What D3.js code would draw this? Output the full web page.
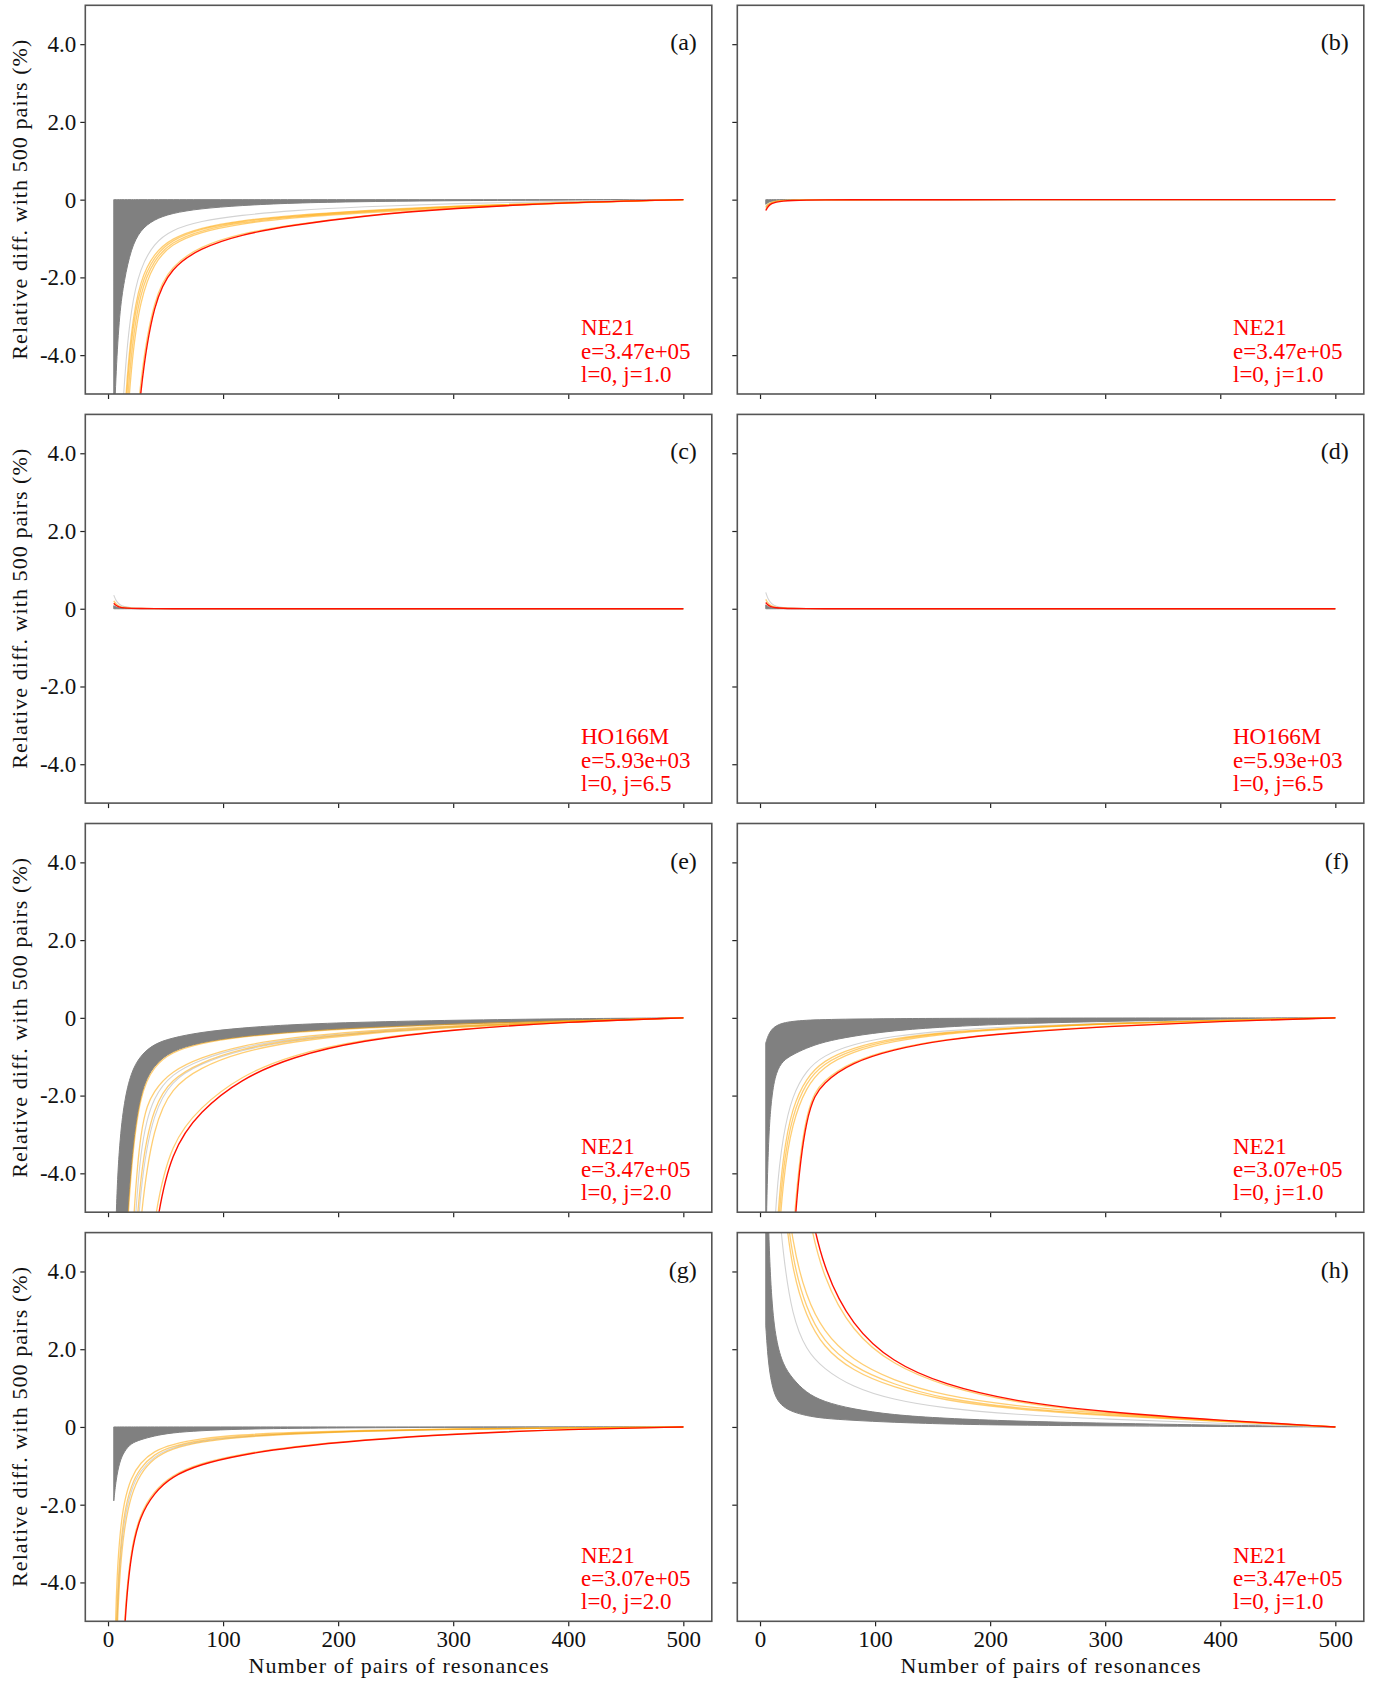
<!DOCTYPE html>
<html>
<head>
<meta charset="utf-8">
<script src="https://cdn.jsdelivr.net/npm/d3@7"></script>
<style>
  html, body { margin: 0; padding: 0; background: #fff; }
  svg text { font-family: "Liberation Serif", "DejaVu Serif", serif; }
</style>
</head>
<body>
<svg id="chart" width="1375" height="1681"></svg>
<script>
// ---------------- DATA ----------------
const X = [5, 7, 10, 14, 20, 28, 40, 55, 80, 115, 160, 220, 300, 400, 500];
const xTicks = [0, 100, 200, 300, 400, 500];
const yTicks = [-4, -2, 0, 2, 4];
const yTickLabels = ["-4.0", "-2.0", "0", "2.0", "4.0"];
const panelLabels = ["(a)", "(b)", "(c)", "(d)", "(e)", "(f)", "(g)", "(h)"];
const notes = [
  ["NE21", "e=3.47e+05", "l=0, j=1.0"],
  ["NE21", "e=3.47e+05", "l=0, j=1.0"],
  ["HO166M", "e=5.93e+03", "l=0, j=6.5"],
  ["HO166M", "e=5.93e+03", "l=0, j=6.5"],
  ["NE21", "e=3.47e+05", "l=0, j=2.0"],
  ["NE21", "e=3.07e+05", "l=0, j=1.0"],
  ["NE21", "e=3.07e+05", "l=0, j=2.0"],
  ["NE21", "e=3.47e+05", "l=0, j=1.0"]
];
const yLabel = "Relative diff. with 500 pairs (%)";
const xLabel = "Number of pairs of resonances";

// panel (a)
const grayUpA = [0,0,0,0,0,0,0,0,0,0,0,0,0,0,0];
const grayLoA = [-6,-4.4,-2.9,-2.08,-1.26,-0.78,-0.51,-0.35,-0.23,-0.15,-0.085,-0.05,-0.025,-0.01,0];
const lightA = [
  [-16,-11,-7,-4.6,-2.75,-1.75,-1.12,-0.78,-0.55,-0.4,-0.28,-0.18,-0.1,-0.04,0]
];
const orangeA = [
  [-21,-14,-8.6,-5.5,-3.3,-2.05,-1.38,-1.0,-0.72,-0.54,-0.4,-0.28,-0.16,-0.07,0],
  [-22,-15,-9.2,-5.9,-3.5,-2.2,-1.46,-1.04,-0.75,-0.56,-0.42,-0.3,-0.17,-0.07,0],
  [-24,-16,-10,-6.4,-3.85,-2.35,-1.54,-1.09,-0.79,-0.59,-0.44,-0.32,-0.18,-0.08,0],
  [-26,-17,-10.8,-7,-4.2,-2.55,-1.62,-1.14,-0.83,-0.62,-0.46,-0.34,-0.2,-0.08,0],
  [-48,-33,-21,-13,-7.6,-4.5,-2.5,-1.7,-1.2,-0.87,-0.64,-0.41,-0.21,-0.07,0]
];
const redA = [-50,-35,-22,-14,-8,-4.75,-2.6,-1.75,-1.25,-0.9,-0.66,-0.42,-0.22,-0.07,0];

// panel (b)
const grayUpB = [0,0,0,0,0,0,0,0,0,0,0,0,0,0,0];
const grayLoB = [-0.12,-0.07,-0.04,-0.02,-0.01,-0.005,-0.003,-0.002,-0.001,0,0,0,0,0,0];
const lightB = [
  [-0.2,-0.12,-0.07,-0.04,-0.02,-0.01,-0.005,-0.003,-0.002,-0.001,0,0,0,0,0]
];
const orangeB = [
  [-0.18,-0.11,-0.065,-0.035,-0.018,-0.01,-0.005,-0.003,-0.002,-0.001,0,0,0,0,0],
  [-0.23,-0.14,-0.08,-0.045,-0.025,-0.013,-0.007,-0.004,-0.002,-0.001,0,0,0,0,0]
];
const redB = [-0.28,-0.17,-0.1,-0.06,-0.035,-0.02,-0.01,-0.006,-0.003,-0.002,-0.001,0,0,0,0];

// panel (c)
const grayUpC = [0.08,0.04,0.02,0.01,0.005,0.003,0.002,0.001,0,0,0,0,0,0,0];
const grayLoC = [0,0,0,0,0,0,0,0,0,0,0,0,0,0,0];
const lightC = [
  [0.35,0.2,0.1,0.05,0.025,0.012,0.006,0.003,0.001,0,0,0,0,0,0]
];
const orangeC = [
  [0.2,0.12,0.06,0.03,0.015,0.008,0.004,0.002,0.001,0,0,0,0,0,0]
];
const redC = [0.14,0.08,0.04,0.02,0.01,0.005,0.003,0.001,0,0,0,0,0,0,0];

// panel (d)
const grayUpD = [0.1,0.05,0.025,0.012,0.006,0.003,0.002,0.001,0,0,0,0,0,0,0];
const grayLoD = [0,0,0,0,0,0,0,0,0,0,0,0,0,0,0];
const lightD = [
  [0.42,0.24,0.12,0.06,0.03,0.015,0.007,0.003,0.001,0,0,0,0,0,0]
];
const orangeD = [
  [0.24,0.14,0.07,0.035,0.018,0.009,0.004,0.002,0.001,0,0,0,0,0,0]
];
const redD = [0.16,0.09,0.045,0.022,0.011,0.005,0.003,0.001,0,0,0,0,0,0,0];

// panel (e)
const grayUpE = [-8,-4.8,-3.2,-2.15,-1.4,-0.97,-0.67,-0.52,-0.37,-0.26,-0.17,-0.11,-0.06,-0.02,0];
const grayLoE = [-25,-16,-10,-6.5,-3.6,-1.85,-1.2,-0.85,-0.63,-0.48,-0.36,-0.25,-0.16,-0.07,0];
const lightE = [
  [-42,-30,-19,-12,-6.8,-3.1,-2.0,-1.45,-1.07,-0.76,-0.53,-0.36,-0.21,-0.085,0],
  [-47,-33,-21,-14,-8.2,-4.1,-2.4,-1.62,-1.18,-0.83,-0.58,-0.39,-0.23,-0.095,0]
];
const orangeE = [
  [-26,-17,-10.5,-6.8,-3.75,-1.92,-1.24,-0.88,-0.65,-0.49,-0.37,-0.26,-0.16,-0.07,0],
  [-40,-28,-18,-11,-6,-2.6,-1.85,-1.38,-1.02,-0.72,-0.5,-0.34,-0.2,-0.08,0],
  [-45,-32,-20,-13,-7.5,-3.8,-2.25,-1.58,-1.15,-0.8,-0.56,-0.38,-0.22,-0.09,0],
  [-50,-35,-23,-15,-9,-4.9,-2.75,-1.8,-1.28,-0.88,-0.61,-0.41,-0.24,-0.1,0],
  [-58,-43,-30,-20,-13,-8.5,-5.0,-3.2,-2.3,-1.5,-0.95,-0.56,-0.29,-0.1,0]
];
const redE = [-60,-45,-32,-22,-14,-9.5,-5.4,-3.4,-2.4,-1.58,-1.0,-0.58,-0.3,-0.1,0];

// panel (f)
const grayUpF = [-0.65,-0.45,-0.3,-0.2,-0.13,-0.09,-0.06,-0.045,-0.03,-0.02,-0.013,-0.008,-0.004,-0.002,0];
const grayLoF = [-6,-3.2,-2.0,-1.38,-1.1,-0.95,-0.78,-0.62,-0.47,-0.33,-0.23,-0.15,-0.09,-0.04,0];
const lightF = [
  [-20,-12,-7,-4.5,-3.0,-2.0,-1.35,-0.97,-0.68,-0.47,-0.33,-0.22,-0.13,-0.05,0]
];
const orangeF = [
  [-25,-15,-9,-5.5,-3.5,-2.3,-1.55,-1.1,-0.77,-0.53,-0.37,-0.25,-0.14,-0.06,0],
  [-27,-16,-9.8,-6,-3.8,-2.5,-1.65,-1.17,-0.82,-0.56,-0.39,-0.26,-0.15,-0.06,0],
  [-29,-17,-10.5,-6.6,-4.1,-2.7,-1.78,-1.25,-0.87,-0.6,-0.41,-0.27,-0.16,-0.065,0],
  [-65,-46,-32,-20,-11,-5.2,-2.2,-1.6,-1.12,-0.8,-0.55,-0.37,-0.21,-0.085,0]
];
const redF = [-70,-50,-35,-22,-12,-5.5,-2.3,-1.65,-1.15,-0.82,-0.56,-0.38,-0.22,-0.09,0];

// panel (g)
const grayUpG = [0,0,0,0,0,0,0,0,0,0,0,0,0,0,0];
const grayLoG = [-1.9,-1.35,-0.9,-0.63,-0.42,-0.33,-0.23,-0.15,-0.095,-0.055,-0.035,-0.02,-0.01,-0.004,0];
const lightG = [
  [-8.5,-5.4,-3.5,-2.4,-1.6,-1.12,-0.76,-0.53,-0.36,-0.25,-0.17,-0.105,-0.058,-0.023,0]
];
const orangeG = [
  [-7,-4.2,-2.8,-1.9,-1.3,-0.92,-0.62,-0.45,-0.3,-0.2,-0.14,-0.09,-0.05,-0.02,0],
  [-8,-5,-3.3,-2.2,-1.5,-1.05,-0.7,-0.5,-0.34,-0.23,-0.16,-0.1,-0.055,-0.022,0],
  [-9,-5.8,-3.8,-2.6,-1.75,-1.2,-0.8,-0.56,-0.38,-0.26,-0.18,-0.11,-0.06,-0.024,0],
  [-21,-13.5,-8.2,-4.8,-3.1,-2.22,-1.65,-1.25,-0.93,-0.7,-0.5,-0.33,-0.17,-0.06,0]
];
const redG = [-22,-14,-8.5,-5.0,-3.2,-2.28,-1.7,-1.28,-0.96,-0.72,-0.52,-0.34,-0.18,-0.06,0];

// panel (h)
const grayUpH = [9,5.2,3.2,2.2,1.6,1.25,0.88,0.65,0.46,0.31,0.22,0.15,0.095,0.045,0];
const grayLoH = [2.6,1.7,1.1,0.72,0.52,0.39,0.29,0.22,0.17,0.12,0.075,0.045,0.028,0.012,0];
const lightH = [
  [20,13,9,6.5,4.4,2.85,1.98,1.5,1.03,0.7,0.48,0.32,0.2,0.09,0]
];
const orangeH = [
  [32,21,15,10,6.8,4.7,3.35,2.45,1.72,1.2,0.8,0.54,0.34,0.16,0],
  [30,20,14,9.5,6.3,4.3,3.05,2.2,1.55,1.1,0.72,0.49,0.31,0.15,0],
  [28,19,13,9,5.9,4.0,2.85,2.05,1.45,1.02,0.68,0.46,0.29,0.14,0],
  [55,38,27,18.5,12.5,8.8,5.6,3.8,2.45,1.6,1.05,0.63,0.36,0.16,0]
];
const redH = [60,42,29,20,13.5,9.5,6,4.05,2.6,1.66,1.09,0.66,0.38,0.17,0];

// assemble panels (row-major)
const panels = [
  {up: grayUpA, lo: grayLoA, light: lightA, orange: orangeA, red: redA},
  {up: grayUpB, lo: grayLoB, light: lightB, orange: orangeB, red: redB},
  {up: grayUpC, lo: grayLoC, light: lightC, orange: orangeC, red: redC},
  {up: grayUpD, lo: grayLoD, light: lightD, orange: orangeD, red: redD},
  {up: grayUpE, lo: grayLoE, light: lightE, orange: orangeE, red: redE},
  {up: grayUpF, lo: grayLoF, light: lightF, orange: orangeF, red: redF},
  {up: grayUpG, lo: grayLoG, light: lightG, orange: orangeG, red: redG},
  {up: grayUpH, lo: grayLoH, light: lightH, orange: orangeH, red: redH}
];

// ---------------- LAYOUT ----------------
const colLeft = [85.3, 737.3];
const rowTop = [5.3, 414.4, 823.5, 1232.6];
const plotW = 626.5, plotH = 388.7;
const FS = 23;
const CURVE = d3.curveBasis;

const svg = d3.select("#chart");

panels.forEach((p, i) => {
  const col = i % 2, row = Math.floor(i / 2);
  const L = colLeft[col], T = rowTop[row];
  const x = d3.scaleLinear().domain([-19.75, 524.75]).range([L, L + plotW]);
  const y = d3.scaleLinear().domain([-5, 5]).range([T + plotH, T]);
  const g = svg.append("g");
  const clipId = "clip" + i;
  g.append("clipPath").attr("id", clipId)
    .append("rect").attr("x", L).attr("y", T).attr("width", plotW).attr("height", plotH);
  const pg = g.append("g").attr("clip-path", `url(#${clipId})`);

  const area = d3.area()
    .x((d, k) => x(X[k]))
    .y0((d, k) => y(p.lo[k]))
    .y1((d, k) => y(p.up[k]))
    .curve(CURVE);
  pg.append("path").attr("d", area(X))
    .attr("fill", "#808080").attr("stroke", "#808080").attr("stroke-width", 1);

  const line = d3.line().x((d, k) => x(X[k])).y(d => y(d)).curve(CURVE);
  p.light.forEach(s => {
    pg.append("path").attr("d", line(s)).attr("fill", "none")
      .attr("stroke", "#d3d3d3").attr("stroke-width", 1.1);
  });
  p.orange.forEach(s => {
    pg.append("path").attr("d", line(s)).attr("fill", "none")
      .attr("stroke", "#ffa500").attr("stroke-opacity", 0.55).attr("stroke-width", 1.3);
  });
  pg.append("path").attr("d", line(p.red)).attr("fill", "none")
    .attr("stroke", "#ff1000").attr("stroke-width", 1.4);

  // axes
  const xAxis = d3.axisBottom(x).tickValues(xTicks).tickSize(5).tickPadding(4)
    .tickFormat(row === 3 ? d3.format("d") : () => "");
  const gx = g.append("g").attr("transform", `translate(0,${T + plotH})`).call(xAxis);
  const yAxis = d3.axisLeft(y).tickValues(yTicks).tickSize(5).tickPadding(4)
    .tickFormat((d, k) => col === 0 ? yTickLabels[k] : "");
  const gy = g.append("g").attr("transform", `translate(${L},0)`).call(yAxis);
  [gx, gy].forEach(a => {
    a.select(".domain").remove();
    a.selectAll(".tick line").attr("stroke", "#222").attr("stroke-width", 1.2);
    a.selectAll(".tick text").attr("fill", "#111")
      .style("font-family", '"Liberation Serif", "DejaVu Serif", serif')
      .style("font-size", FS + "px");
  });

  // frame
  g.append("rect").attr("x", L).attr("y", T).attr("width", plotW).attr("height", plotH)
    .attr("fill", "none").attr("stroke", "#555").attr("stroke-width", 1.6);

  // panel label
  g.append("text").attr("x", L + plotW - 15).attr("y", T + 45)
    .attr("text-anchor", "end").attr("font-size", 24).attr("fill", "#111")
    .text(panelLabels[i]);

  // notes
  notes[i].forEach((t, k) => {
    g.append("text").attr("x", L + 495.7).attr("y", T + 330 + k * 23.3)
      .attr("font-size", FS).attr("fill", "#ff0000").text(t);
  });

  // y label
  if (col === 0) {
    svg.append("text")
      .attr("transform", `translate(27,${T + plotH / 2}) rotate(-90)`)
      .attr("text-anchor", "middle").attr("font-size", 22).attr("fill", "#111")
      .attr("textLength", 320).attr("lengthAdjust", "spacing")
      .text(yLabel);
  }
  // x label
  if (row === 3) {
    svg.append("text")
      .attr("x", L + plotW / 2).attr("y", 1673)
      .attr("text-anchor", "middle").attr("font-size", 22).attr("fill", "#111")
      .attr("textLength", 300).attr("lengthAdjust", "spacing")
      .text(xLabel);
  }
});
</script>
</body>
</html>
